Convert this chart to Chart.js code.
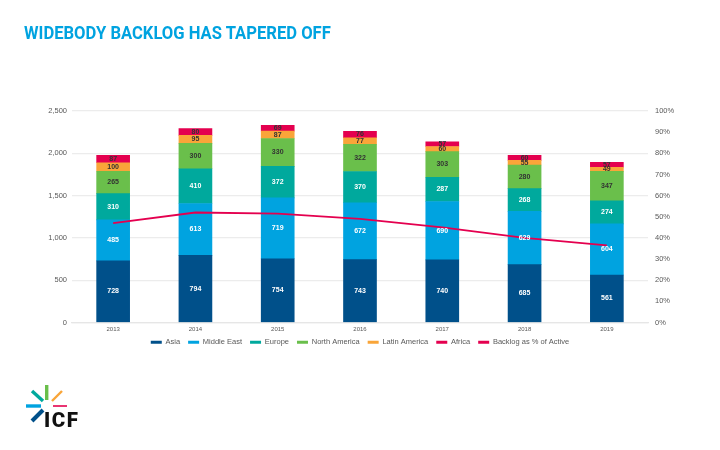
<!DOCTYPE html>
<html>
<head>
<meta charset="utf-8">
<style>
	html, body { margin: 0; padding: 0; background: #fff; }
	#wrap { position: relative; width: 720px; height: 450px; overflow: hidden; }
	#chart { position: absolute; left: 0; top: 0; }
	#title {
		position: absolute; left: 24px; top: 22px;
		font: 700 18.3px Roboto, sans-serif; color: #00a3e0;
		transform: scaleX(0.908); transform-origin: left top; white-space: nowrap;
	}
	#logo { position: absolute; left: 0; top: 370px; }
</style>
</head>
<body>
<div id="wrap">
	<canvas id="chart" width="720" height="450"></canvas>
	<div id="title">WIDEBODY BACKLOG HAS TAPERED OFF</div>
	<svg id="logo" width="120" height="70" viewBox="0 370 120 70">
		<g stroke-width="3.4" fill="none">
			<line x1="46.7" y1="385" x2="46.7" y2="400" stroke="#6abf4b"/>
			<line x1="32" y1="391" x2="43" y2="401" stroke="#00a99d"/>
			<line x1="62" y1="391" x2="52" y2="401" stroke="#f9a539" stroke-width="2.4"/>
			<line x1="53" y1="406" x2="67" y2="406" stroke="#e4004f" stroke-width="1.6"/>
			<line x1="26" y1="406" x2="41" y2="406" stroke="#00a3e0"/>
			<line x1="43" y1="410" x2="32" y2="421" stroke="#00508a" stroke-width="4"/>
		</g>
		<text x="44" y="427" font-family="Roboto, sans-serif" font-weight="900" font-size="20.5" textLength="34" fill="#111">ICF</text>
	</svg>
</div>
<script src="https://cdn.jsdelivr.net/npm/chart.js@4"></script>
<script>
const years = ['2013', '2014', '2015', '2016', '2017', '2018', '2019'];
const asia = [728, 794, 754, 743, 740, 685, 561];
const middleEast = [485, 613, 719, 672, 690, 629, 604];
const europe = [310, 410, 372, 370, 287, 268, 274];
const northAmerica = [265, 300, 330, 322, 303, 280, 347];
const latinAmerica = [100, 95, 87, 77, 60, 55, 49];
const africa = [87, 80, 69, 76, 57, 60, 57];
const backlogPct = [47, 52, 51.5, 49, 45, 40, 36.5];

const WHITE = '#ffffff';
const DARK = '#333333';
const FONT = '"Liberation Sans", Arial, sans-serif';

function barSet(label, data, color, labelColor) {
	return {
		type: 'bar',
		label,
		data,
		backgroundColor: color,
		borderColor: color,
		borderWidth: 0,
		stack: 'backlog',
		yAxisID: 'y',
		order: 2,
		barThickness: 33,
		labelColor,
	};
}

// Values inside the bar segments
const segmentLabels = {
	id: 'segmentLabels',
	afterDatasetsDraw(chart) {
		const ctx = chart.ctx;
		ctx.save();
		ctx.font = '700 7px ' + FONT;
		ctx.textAlign = 'center';
		ctx.textBaseline = 'middle';
		chart.data.datasets.forEach((ds, i) => {
			if (ds.type !== 'bar') return;
			ctx.fillStyle = ds.labelColor;
			chart.getDatasetMeta(i).data.forEach((bar, j) => {
				const mid = (bar.y + bar.base) / 2;
				ctx.fillText(ds.data[j], bar.x, mid);
			});
		});
		ctx.restore();
	},
};

// The legend sits closer to the axis than its own padding allows
const liftLegend = {
	id: 'liftLegend',
	afterLayout(chart) {
		chart.legend.top -= 5;
	},
};

new Chart(document.getElementById('chart'), {
	data: {
		labels: years,
		datasets: [
			barSet('Asia', asia, '#00508a', WHITE),
			barSet('Middle East', middleEast, '#00a3e0', WHITE),
			barSet('Europe', europe, '#00a99d', WHITE),
			barSet('North America', northAmerica, '#6abf4b', DARK),
			barSet('Latin America', latinAmerica, '#f9a539', DARK),
			barSet('Africa', africa, '#e4004f', DARK),
			{
				type: 'line',
				label: 'Backlog as % of Active',
				data: backlogPct,
				borderColor: '#e4004f',
				backgroundColor: '#e4004f',
				borderWidth: 1.8,
				pointRadius: 0,
				tension: 0,
				yAxisID: 'y1',
				order: 1,
			},
		],
	},
	options: {
		responsive: false,
		animation: false,
		layout: { padding: { left: 40, right: 40, top: 111, bottom: 89 } },
		plugins: {
			title: { display: false },
			tooltip: { enabled: false },
			legend: {
				position: 'bottom',
				labels: {
					boxWidth: 11,
					boxHeight: 3,
					padding: 8,
					color: '#595959',
					font: { size: 7.5, family: FONT },
					sort: (a, b) => a.datasetIndex - b.datasetIndex,
					generateLabels: (chart) => Chart.defaults.plugins.legend.labels
						.generateLabels(chart)
						.map((item) => ({ ...item, lineWidth: 0 })),
				},
			},
		},
		scales: {
			x: {
				stacked: true,
				grid: { display: false, drawTicks: false },
				border: { color: '#e6e6e6', width: 1.2 },
				ticks: { color: '#595959', font: { size: 6, family: FONT }, padding: 3 },
				afterFit: (axis) => { axis.height = 13; },
			},
			y: {
				stacked: true,
				min: 0,
				max: 2500,
				ticks: {
					stepSize: 500,
					color: '#595959',
					padding: 5,
					font: { size: 7.5, family: FONT },
					callback: (v) => Number(v).toLocaleString('en-US'),
				},
				grid: { color: '#ececec', lineWidth: 1.2, drawTicks: false },
				border: { display: false },
				afterFit: (axis) => { axis.width = 32; },
			},
			y1: {
				position: 'right',
				min: 0,
				max: 100,
				ticks: {
					stepSize: 10,
					color: '#595959',
					padding: 7,
					font: { size: 7.5, family: FONT },
					callback: (v) => v + '%',
				},
				grid: { display: false, drawTicks: false },
				border: { display: false },
				afterFit: (axis) => { axis.width = 32; },
			},
		},
	},
	plugins: [segmentLabels, liftLegend],
});
</script>
</body>
</html>
